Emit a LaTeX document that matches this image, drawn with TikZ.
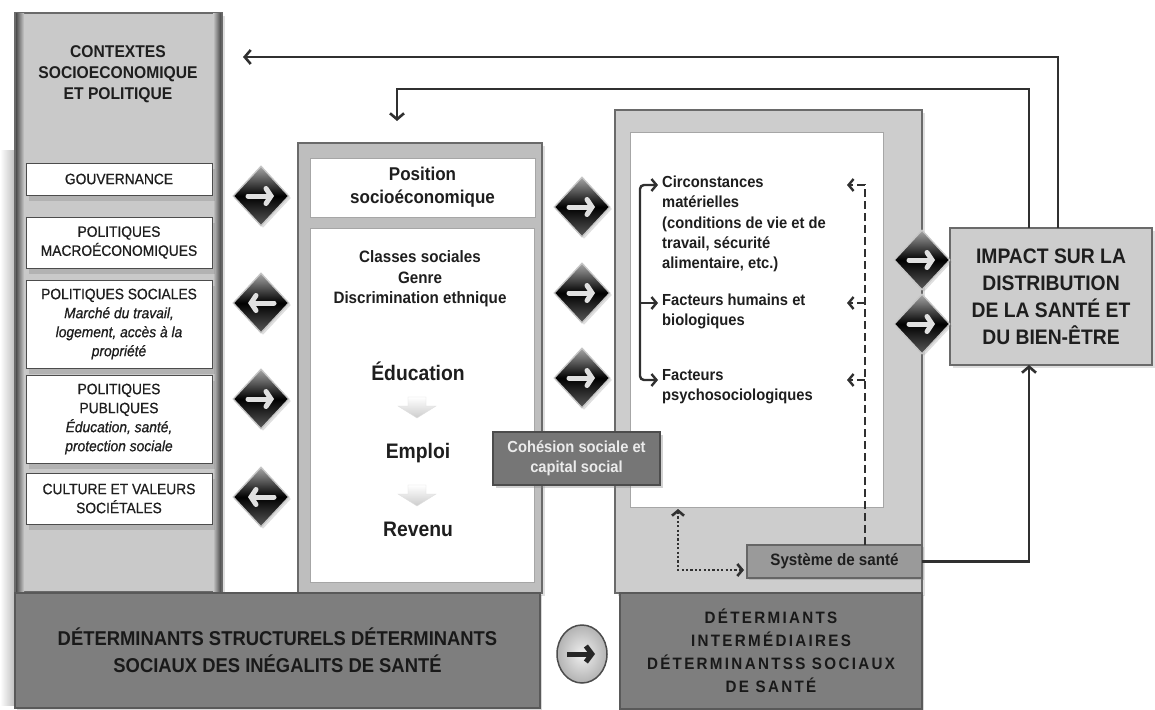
\documentclass[tikz,border=0pt]{standalone}
\usepackage{fontspec}
\setmainfont{Liberation Sans}[FakeStretch=0.92]
\usetikzlibrary{arrows.meta,shapes.geometric,shadows,calc}
\definecolor{lpan}{HTML}{C9C9C9}
\definecolor{mpan}{HTML}{BEBEBE}
\definecolor{rpan}{HTML}{CDCDCD}
\definecolor{edge}{HTML}{6A6A6A}
\definecolor{ink}{HTML}{1E1E1E}
\definecolor{ln}{HTML}{303030}
\definecolor{dkbox}{HTML}{7E7E7E}
\definecolor{cohbox}{HTML}{767676}
\definecolor{sysbox}{HTML}{9A9A9A}
\newcommand\fLeft{\fontsize{15}{19}\selectfont\addfontfeature{FakeBold=0.7}}
\newcommand\fCtx{\fontsize{17}{21}\selectfont\bfseries}
\newcommand\fPos{\fontsize{18.5}{23}\selectfont\bfseries}
\newcommand\fCls{\fontsize{16.5}{20.5}\selectfont\bfseries}
\newcommand\fBig{\fontsize{21}{25}\selectfont\bfseries}
\newcommand\fRt{\fontsize{16}{20.2}\selectfont\bfseries}
\newcommand\fCoh{\fontsize{16}{20.5}\selectfont\bfseries}
\newcommand\fSys{\fontsize{16.5}{20}\selectfont\bfseries}
\newcommand\fImp{\fontsize{21}{27}\selectfont\bfseries}
\newcommand\fBL{\fontsize{20}{27}\selectfont\bfseries}
\newcommand\fBR{\fontsize{16.5}{23}\selectfont\bfseries\addfontfeature{LetterSpace=14}}
\tikzset{
  panelbox/.style={draw=edge, line width=1.6pt, inner sep=0pt, outer sep=0pt,
    drop shadow={shadow xshift=3pt, shadow yshift=-3pt, opacity=0.25}},
  whitebox/.style={draw=black!70, line width=1pt, fill=white, inner sep=0pt, outer sep=0pt,
    align=center, text=ink,
    drop shadow={shadow xshift=3pt, shadow yshift=-6pt, opacity=0.3}},
  innerw/.style={draw=gray!70, line width=1pt, fill=white, inner sep=0pt, outer sep=0pt, align=center, text=ink},
  diam/.style={diamond, minimum width=56pt, minimum height=60pt, inner sep=0pt, draw=gray!45,
    line width=1.3pt, top color=gray!70, bottom color=black!65, middle color=black,
    drop shadow={shadow xshift=2pt, shadow yshift=-2pt, opacity=0.25}},
  warr/.style={draw=white!88!black, line width=5pt, line cap=round,
    -{Straight Barb[length=5pt,width=15pt,line cap=round]}},
  downarr/.style={top color=white, bottom color=gray!40, draw=gray!25, line width=0.4pt},
  darkbox/.style={fill=dkbox, draw=black!65, line width=1.4pt, inner sep=0pt, outer sep=0pt,
    align=center, text=black!90,
    drop shadow={shadow xshift=2pt, shadow yshift=-2pt, opacity=0.3}},
  cohstyle/.style={fill=cohbox, draw=black!70, line width=1.2pt, inner sep=0pt, outer sep=0pt,
    align=center, text=white!92!black, font=\fCoh,
    drop shadow={shadow xshift=3pt, shadow yshift=-3pt, opacity=0.35}},
  sysstyle/.style={fill=sysbox, draw=black!60, line width=1.2pt, inner sep=0pt, outer sep=0pt,
    text=ink, font=\fSys,
    drop shadow={shadow xshift=2pt, shadow yshift=-2pt, opacity=0.3}},
  btnstyle/.style={ellipse, minimum width=50pt, minimum height=58pt, inner sep=0pt,
    draw=black!70, line width=1.5pt, inner color=gray!12, outer color=gray!60},
  txt/.style={inner sep=0pt, text=ink, align=center},
  fb/.style={draw=ln, line width=2.6pt, -{Straight Barb[length=6pt,width=14pt]}},
  solid2/.style={draw=ln, line width=2.4pt},
  dsh/.style={draw=ln, line width=2.4pt, dash pattern=on 8pt off 4pt},
  dotl/.style={draw=ln, line width=2.6pt, dash pattern=on 2.2pt off 2.2pt},
  barb/.style={-{Straight Barb[length=5pt,width=12pt]}}
}
\newcommand\arrR[1]{\draw[warr] ([xshift=-13pt]#1.center) -- ([xshift=13pt]#1.center);}
\newcommand\arrL[1]{\draw[warr] ([xshift=13pt]#1.center) -- ([xshift=-13pt]#1.center);}
\newcommand\arrD[1]{\path[downarr,shift={(#1)}] (-9,-10) -- (9,-10) -- (9,-1) -- (19,-1) -- (0,11) -- (-19,-1) -- (-9,-1) -- cycle;}
\begin{document}
\begin{tikzpicture}[x=1pt,y=-1pt]
\useasboundingbox (0,0) rectangle (1155,709);
\fill[white] (0,0) rectangle (1155,709);
\shade[left color=white, right color=gray!55] (0,150) rectangle (16,705);

% ---------- left column ----------
\node[panelbox, fill=lpan, minimum width=207pt, minimum height=579pt] (lp) at (118.5,302.5) {};
\shade[left color=gray!60!black, right color=lpan] (16,14) rectangle (24,591);
\shade[left color=lpan, right color=gray!55!black] (213,14) rectangle (221,591);
\node[txt, font=\fCtx] (ctx) at (118,74) {CONTEXTES\\SOCIOECONOMIQUE\\ET POLITIQUE};
\node[whitebox, font=\fLeft, minimum width=186pt, minimum height=32pt] (gov) at (119,179) {GOUVERNANCE};
\node[whitebox, font=\fLeft, minimum width=186pt, minimum height=51pt] (mac) at (119,242.5) {POLITIQUES\\MACROÉCONOMIQUES};
\node[whitebox, font=\fLeft, minimum width=186pt, minimum height=88pt] (soc) at (119,324) {POLITIQUES SOCIALES\\\textit{Marché du travail,}\\\textit{logement, accès à la}\\\textit{propriété}};
\node[whitebox, font=\fLeft, minimum width=186pt, minimum height=88pt] (pub) at (119,419) {POLITIQUES\\PUBLIQUES\\\textit{Éducation, santé,}\\\textit{protection sociale}};
\node[whitebox, font=\fLeft, minimum width=186pt, minimum height=51pt] (cul) at (119,498.5) {CULTURE ET VALEURS\\SOCIÉTALES};

% ---------- middle column ----------
\node[panelbox, fill=mpan, minimum width=244pt, minimum height=450pt] (mp) at (420,368) {};
\node[innerw, font=\fPos, minimum width=225pt, minimum height=59pt] (pos) at (422.5,187.5) {Position\\socioéconomique};
\node[innerw, minimum width=224pt, minimum height=354pt] (midw) at (422,405) {};
\node[txt, font=\fCls] (cls) at (420,279) {Classes sociales\\Genre\\Discrimination ethnique};
\node[txt, font=\fBig] (edu) at (418,371) {Éducation};
\node[txt, font=\fBig] (emp) at (418,453) {Emploi};
\node[txt, font=\fBig] (rev) at (418,529) {Revenu};
\coordinate (dn1) at (417,407);
\coordinate (dn2) at (417,495);
\arrD{dn1}
\arrD{dn2}

% ---------- right column ----------
\node[panelbox, fill=rpan, minimum width=307pt, minimum height=483pt] (rp) at (768.5,351.5) {};
\node[innerw, minimum width=253pt, minimum height=375pt] (inw) at (756.5,319.5) {};
\node[txt, font=\fRt, align=left, anchor=west] (circ) at (662,224) {Circonstances\\matérielles\\(conditions de vie et de\\travail, sécurité\\alimentaire, etc.)};
\node[txt, font=\fRt, align=left, anchor=west] (hum) at (662,311) {Facteurs humains et\\biologiques};
\node[txt, font=\fRt, align=left, anchor=west] (psy) at (662,387) {Facteurs\\psychosociologiques};
\node[sysstyle, minimum width=175pt, minimum height=33pt] (sys) at (834.5,561.5) {Système de santé};
\node[cohstyle, minimum width=167pt, minimum height=53pt] (coh) at (576.5,458.5) {Cohésion sociale et\\capital social};

% ---------- impact ----------
\node[panelbox, fill=rpan, font=\fImp, align=center, text=ink, minimum width=202pt, minimum height=137pt] (imp) at (1051,296.5) {IMPACT SUR LA\\DISTRIBUTION\\DE LA SANTÉ ET\\DU BIEN-ÊTRE};

% ---------- bottom ----------
\node[darkbox, font=\fBL, minimum width=525pt, minimum height=115pt] (bl) at (277.5,650.5) {DÉTERMINANTS STRUCTURELS DÉTERMINANTS\\SOCIAUX DES INÉGALITS DE SANTÉ};
\node[darkbox, font=\fBR, minimum width=302pt, minimum height=116pt] (br) at (771,651) {DÉTERMIANTS\\INTERMÉDIAIRES\\DÉTERMINANTSS SOCIAUX\\DE SANTÉ};
\node[btnstyle] (btn) at (582,654) {};
\draw[line width=5pt, black!85, -{Straight Barb[length=6pt,width=16pt]}] ([xshift=-15pt]btn.center) -- ([xshift=13pt]btn.center);

% ---------- diamonds ----------
\node[diam] (d1) at (261,196) {}; \arrR{d1}
\node[diam] (d2) at (261,303) {}; \arrL{d2}
\node[diam] (d3) at (261,399) {}; \arrR{d3}
\node[diam] (d4) at (261,497) {}; \arrL{d4}
\node[diam] (m1) at (582,207) {}; \arrR{m1}
\node[diam] (m2) at (582,293) {}; \arrR{m2}
\node[diam] (m3) at (582,378) {}; \arrR{m3}
\node[diam] (r1) at (922,260) {}; \arrR{r1}
\node[diam] (r2) at (922,324) {}; \arrR{r2}

% ---------- connectors ----------
\coordinate (f1) at (1058,57);
\coordinate (f1e) at (243,57);
\coordinate (f2) at (1029,89);
\coordinate (f2c) at (397,89);
\coordinate (f2e) at (397,121);
\draw[fb] (imp.north -| f1) -- (f1) -- (f1e);
\draw[fb] (imp.north -| f2) -- (f2) -- (f2c) -- (f2e);
\draw[fb] (sys.east) -| (imp.south -| f2);

% bracket
\coordinate (bx) at (640,0);
\coordinate (t1) at (658,185);
\coordinate (t2) at (658,303);
\coordinate (t3) at (658,380);
\draw[solid2, rounded corners=4pt, {Straight Barb[length=5pt,width=12pt]}-{Straight Barb[length=5pt,width=12pt]}] (t1) -- (t1 -| bx) -- (t3 -| bx) -- (t3);
\draw[solid2, barb] (t2 -| bx) -- (t2);

% dashed from health system
\coordinate (dx) at (865,0);
\coordinate (a1) at (847,185);
\coordinate (a2) at (847,303);
\coordinate (a3) at (847,380);
\draw[dsh, barb] (sys.north -| dx) -- (a1 -| dx) -- (a1);
\draw[dsh, barb] (a2 -| dx) -- (a2);
\draw[dsh, barb] (a3 -| dx) -- (a3);

% dotted
\coordinate (dt) at (678,509);
\draw[dotl, {Straight Barb[length=5pt,width=12pt]}-{Straight Barb[length=5pt,width=12pt]}, shorten >=3pt] (dt) |- ([yshift=-8.5pt]sys.west);
\end{tikzpicture}
\end{document}
